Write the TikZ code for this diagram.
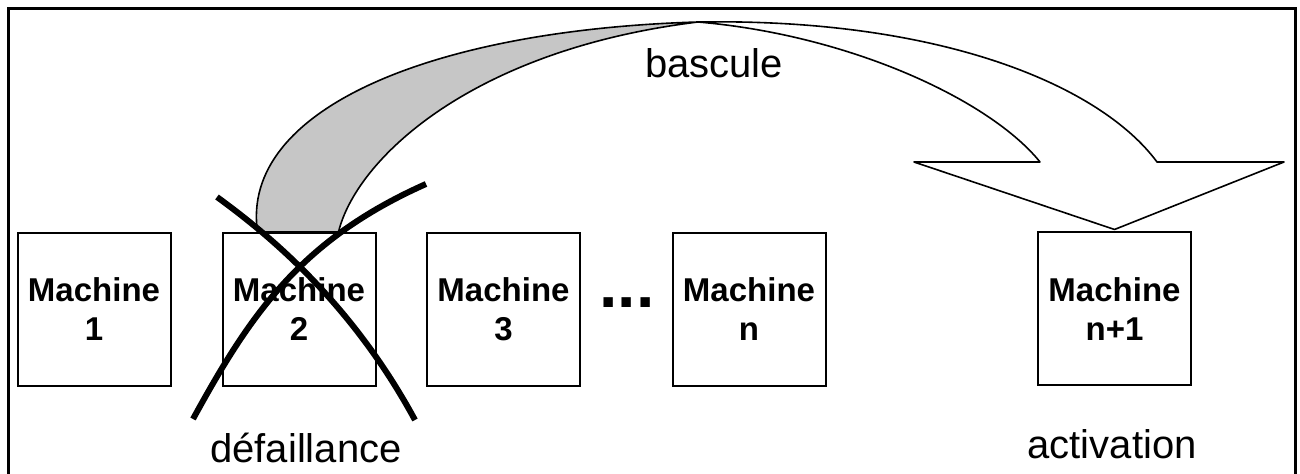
\documentclass[tikz,border=0pt]{standalone}
\usepackage{fontspec}
\setmainfont{Liberation Sans}
\begin{document}
\begin{tikzpicture}[x=0.5pt,y=-0.5pt,
  machine/.style={draw=black,line width=1pt,minimum width=76.5pt,minimum height=76.5pt,
    inner sep=0pt,align=center,font=\fontsize{16.5}{19.5}\selectfont\bfseries},
  lbl/.style={anchor=base,inner sep=0pt,font=\fontsize{20}{24}\selectfont},
  arrowline/.style={draw=black,line width=0.8pt,line join=round},
  crossline/.style={draw=black,line width=3pt}]
\useasboundingbox (0,0) rectangle (1300,474);
% frame
\draw[line width=1.5pt] (8,476) -- (8,9) -- (1295,9) -- (1295,476);
% machines
\node[machine] (m1) at (94,309.5) {Machine\\1};
\node[machine] (m2) at (299,309.5) {Machine\\2};
\node[machine] (m3) at (503.5,309.5) {Machine\\3};
\node[machine] (mn) at (749,309.5) {Machine\\n};
\node[machine] (mn1) at (1114.5,309) {Machine\\n+1};
\node[anchor=base,inner sep=0pt,font=\fontsize{33}{36}\selectfont\bfseries] (dots) at (627,308) {...};
% shaded part of the switch-over arrow
\coordinate (bl) at ([xshift=18]m2.north west);
\coordinate (br) at ([xshift=-19]m2.north east);
\coordinate (top) at (698,22);
\fill[gray!45,arrowline] (bl) .. controls (240,110) and (430,30) .. (top)
  .. controls (470,50) and (356,160) .. (br) -- cycle;
% white part with arrow head
\coordinate (tip) at ([yshift=1]mn1.north);
\filldraw[fill=white,arrowline] (top) .. controls (940,18) and (1100,85) .. (1157,162)
  -- (1284,162) -- (tip) -- (914,162) -- (1040,162)
  .. controls (990,100) and (850,35) .. (top);
% cross over machine 2
\draw[crossline] (193,419) .. controls (250,315) and (300,240) .. (426,184);
\draw[crossline] (217,197) .. controls (265,232) and (350,300) .. (415,420);
% labels
\node[lbl] (bascule) at (714,78) {bascule};
\node[lbl] (defaillance) at (306,463) {défaillance};
\node[lbl] (activation) at (1112,459) {activation};
\end{tikzpicture}
\end{document}
